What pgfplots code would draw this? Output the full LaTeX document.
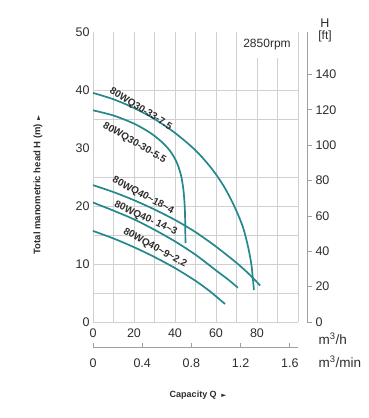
\documentclass[border=0pt]{standalone}
\usepackage{fontspec}
\setmainfont{Liberation Sans}
\newfontfamily\sym{DejaVu Sans}
\usepackage{pgfplots}
\pgfplotsset{compat=1.18}
\definecolor{curve}{RGB}{36,136,140}
\definecolor{gridc}{RGB}{208,208,208}
\definecolor{txt}{RGB}{45,45,45}
\begin{document}
\begin{tikzpicture}[x=1pt,y=1pt]
\useasboundingbox (0,0) rectangle (369,-418);
\begin{axis}[
  at={(93pt,-322pt)}, anchor=south west, scale only axis,
  width=205pt, height=290pt,
  xmin=0, xmax=100, ymin=0, ymax=50,
  axis line style={draw=none},
  tick style={draw=none},
  xtick={0,20,40,60,80},
  ytick={0,10,20,30,40,50},
  minor xtick={10,30,50,70,90},
  extra x ticks={100}, extra x tick labels={},
  extra y ticks={0,5,10,15,20,25,35,40}, extra y tick labels={},
  xmajorgrids, xminorgrids,
  extra x tick style={grid=major},
  extra y tick style={grid=major},
  major grid style={gridc, line width=0.8pt},
  minor grid style={gridc, line width=0.8pt},
  /pgf/number format/assume math mode=true,
  xticklabel style={font=\fontsize{12.5}{13}\selectfont, text=txt, yshift=-3pt},
  yticklabel style={font=\fontsize{12.5}{13}\selectfont, text=txt},
  clip=false,
]
\addplot[curve, line width=1.7pt, smooth] coordinates {
 (0,39.5) (10,38.4) (20,36.9) (30,35.0) (40,32.6) (50,29.6) (58,26.4)
 (64,23.3) (69,19.9) (73,16.5) (75.5,13.2) (77.3,9.8) (78.5,5.5)};
\addplot[curve, line width=1.7pt, smooth] coordinates {
 (0,36.5) (10,35.6) (20,34.2) (28,32.6) (34,30.9) (38,29.3) (41,27.4)
 (43,25.2) (44.2,22.5) (44.8,19.5) (45,16.5) (45.1,13.6)};
\addplot[curve, line width=1.7pt, smooth] coordinates {
 (0,23.6) (10,22.4) (20,21.0) (30,19.4) (40,17.6) (50,15.5) (60,13.0)
 (70,10.2) (76,8.3) (81.5,6.3)};
\addplot[curve, line width=1.7pt, smooth] coordinates {
 (0,20.6) (10,19.2) (20,17.7) (30,15.9) (40,13.9) (50,11.6) (60,8.9)
 (66,7.3) (70.7,5.9)};
\addplot[curve, line width=1.7pt, smooth] coordinates {
 (0,15.7) (10,14.4) (20,12.9) (30,11.2) (40,9.3) (50,7.1) (57,5.3)
 (64.4,3.1)};
\end{axis}
% ft axis
\begin{axis}[
  at={(102pt,-322pt)}, anchor=south west, scale only axis,
  width=205pt, height=290pt,
  xmin=0, xmax=100, ymin=0, ymax=164.042,
  hide x axis, axis y line*=right,
  ytick={0,20,40,60,80,100,120,140},
  axis line style={gray!75, line width=0.8pt},
  major tick style={gray!75, line width=0.8pt},
  major tick length=5pt, tick align=outside,
  /pgf/number format/assume math mode=true,
  yticklabel style={font=\fontsize{12.5}{13}\selectfont, text=txt},
]
\addplot[draw=none] coordinates {(0,0)};
\end{axis}
% m3/min axis
\begin{axis}[
  at={(93pt,-347pt)}, anchor=south west, scale only axis,
  width=205pt, height=10pt,
  xmin=0, xmax=1.66667, ymin=0, ymax=1,
  hide y axis, axis x line*=bottom,
  xtick={0,0.4,0.8,1.2,1.6},
  axis line style={gray!75, line width=0.8pt},
  major tick style={gray!75, line width=0.8pt},
  major tick length=4pt, tick align=inside,
  /pgf/number format/assume math mode=true,
  /pgf/number format/fixed,
  xticklabel style={font=\fontsize{12.5}{13}\selectfont, text=txt, yshift=-8pt},
]
\addplot[draw=none] coordinates {(0,0)};
\end{axis}
\node[fill=white, minimum width=50pt, minimum height=26pt, inner sep=0pt,
  font=\fontsize{12}{12}\selectfont, text=txt] at (267,-45) {2850rpm};
\node[font=\fontsize{12.5}{12}\selectfont, text=txt] at (325,-23) {H};
\node[font=\fontsize{12}{12}\selectfont, text=txt] at (325,-36) {[ft]};
\node[anchor=west, font=\fontsize{13.5}{14}\selectfont, text=txt] at (315,-339) {m\textsuperscript{3}/h};
\node[anchor=west, font=\fontsize{13.5}{14}\selectfont, text=txt] at (315,-362) {m\textsuperscript{3}/min};
\begin{scope}[font=\bfseries\fontsize{10}{10}\selectfont, text=txt]
\node[rotate=-32] at (140.7,-109) {80WQ30-33-7.5};
\node[rotate=-30] at (134.5,-143) {80WQ30-30-5.5};
\node[rotate=-28] at (143,-195.5) {80WQ40\textasciitilde18\textasciitilde4};
\node[rotate=-25] at (145.7,-218.5) {80WQ40- 14\textasciitilde3};
\node[rotate=-29] at (155,-248) {80WQ40\textasciitilde9\textasciitilde2.2};
\end{scope}
\node[rotate=90, font=\bfseries\fontsize{9.5}{10}\selectfont, text=txt] at (38,-185)
  {Total manometric head H (m)\,\,{\sym\fontsize{6.5}{6}\selectfont ►}};
\node[font=\bfseries\fontsize{9}{10}\selectfont, text=txt] at (198,-395)
  {Capacity Q\,\,\,{\sym\fontsize{6.5}{6}\selectfont ►}};
\end{tikzpicture}
\end{document}
